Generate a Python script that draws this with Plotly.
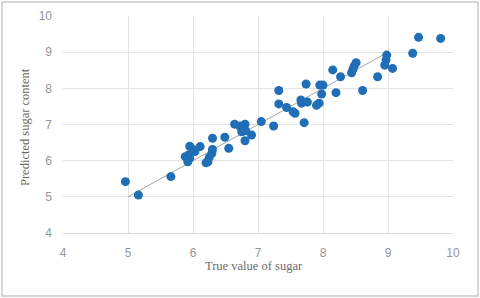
import plotly.graph_objects as go

# Data
true_values = [4.96, 5.16, 5.66, 5.88, 5.92, 5.93, 5.95, 5.95, 6.00, 6.03, 6.11,
               6.23, 6.25, 6.29, 6.30, 6.30, 6.49, 6.55, 6.64, 6.72, 6.80, 6.75,
               6.81, 6.90, 6.80, 7.05, 7.24, 7.32, 7.32, 7.44, 7.54, 7.57, 7.71,
               7.66, 7.67, 7.76, 7.74, 7.90, 7.94, 7.95, 8.00, 7.98, 8.15, 8.20,
               8.27, 8.44, 8.46, 8.48, 8.51, 8.61, 8.84, 8.95, 8.97, 8.98, 9.07,
               9.38, 9.47, 9.81, 6.20]
predicted_values = [5.42, 5.05, 5.56, 6.11, 5.97, 6.16, 6.40, 6.07, 6.31, 6.25, 6.39,
                    5.97, 6.09, 6.20, 6.31, 6.62, 6.65, 6.34, 7.01, 6.96, 7.01, 6.80,
                    6.83, 6.71, 6.55, 7.08, 6.96, 7.94, 7.57, 7.47, 7.35, 7.31, 7.05,
                    7.68, 7.59, 7.62, 8.12, 7.53, 7.59, 8.09, 8.09, 7.84, 8.51, 7.88,
                    8.32, 8.43, 8.52, 8.62, 8.71, 7.94, 8.32, 8.64, 8.78, 8.92, 8.55,
                    8.97, 9.41, 9.38, 5.94]
fit_x = [5, 9]
fit_y = [5, 9]
x_ticks = [4, 5, 6, 7, 8, 9, 10]
y_ticks = [4, 5, 6, 7, 8, 9, 10]
x_title = "True value of sugar"
y_title = "Predicted sugar content"

fig = go.Figure()
fig.add_trace(go.Scatter(x=fit_x, y=fit_y, mode="lines",
                         line=dict(color="#a6a6a6", width=1), hoverinfo="skip"))
fig.add_trace(go.Scatter(x=true_values, y=predicted_values, mode="markers",
                         marker=dict(color="#1f6eb6", size=9, line=dict(width=0))))

W, H = 480, 298
L, R, T, B = 63, 27, 16, 65
pw, ph = W - L - R, H - T - B

def px(xp):
    return (xp - L) / pw

def py(yp):
    return (H - B - yp) / ph

fig.add_shape(type="rect", xref="paper", yref="paper",
              x0=px(2), x1=px(478), y0=py(296), y1=py(2),
              line=dict(color="#c8c8c8", width=1.5), layer="below")

tick_font = dict(family="Liberation Sans, Arial, sans-serif", size=12, color="#959595")
title_font = dict(family="Liberation Serif, Times New Roman, serif", size=12.5, color="#6a6a6a")

fig.add_annotation(text=x_title, xref="paper", yref="paper", x=px(254), y=py(266),
                   showarrow=False, font=title_font, xanchor="center", yanchor="middle")
fig.add_annotation(text=y_title, xref="paper", yref="paper", x=px(25), y=py(127),
                   showarrow=False, font=title_font, textangle=-90,
                   xanchor="center", yanchor="middle")

fig.update_layout(
    width=W, height=H,
    margin=dict(l=L, r=R, t=T, b=B, autoexpand=False),
    paper_bgcolor="white", plot_bgcolor="white",
    showlegend=False,
    xaxis=dict(range=[4, 10], tickvals=x_ticks, ticktext=[str(v) for v in x_ticks],
               showgrid=True, gridcolor="#e3e3e3", gridwidth=1, zeroline=False,
               showline=True, linecolor="#d9d9d9", linewidth=1, ticks="",
               tickfont=tick_font, ticklabelstandoff=9, automargin=False),
    yaxis=dict(range=[4, 10], tickvals=y_ticks, ticktext=[str(v) for v in y_ticks],
               showgrid=True, gridcolor="#e3e3e3", gridwidth=1, zeroline=False,
               showline=False, ticks="",
               tickfont=tick_font, ticklabelstandoff=10, automargin=False),
)

fig.write_html("out.html", config={"displayModeBar": False},
               post_script="document.body.style.margin='0';document.body.style.overflow='hidden';")
